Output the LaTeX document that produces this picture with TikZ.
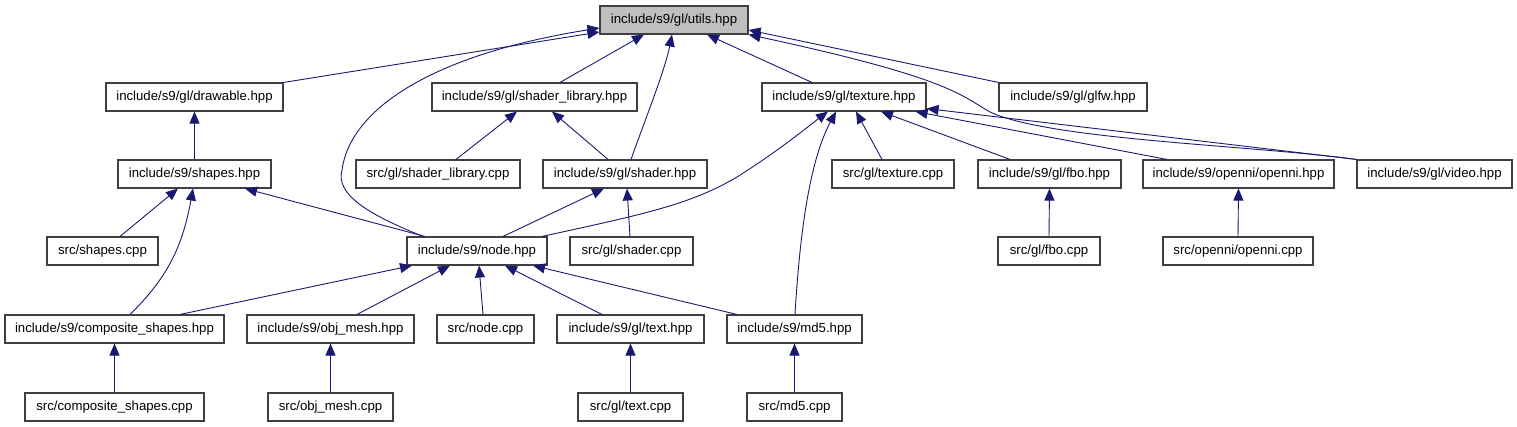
\documentclass[tikz,border=0pt]{standalone}
\usepackage{fontspec}
\setmainfont{Liberation Sans}
\usetikzlibrary{arrows.meta}
\definecolor{edgeblue}{HTML}{191970}
\definecolor{boxline}{HTML}{404040}
\definecolor{rootfill}{HTML}{BFBFBF}
\tikzset{
  box/.style={draw=boxline, line width=1.1pt, fill=white, rectangle, inner sep=0pt,
    minimum height=28pt, text height=9.6pt, text depth=2.8pt,
    font=\fontsize{13.2}{15}\selectfont},
  rootbox/.style={box, fill=rootfill},
  edge/.style={draw=edgeblue, line width=0.9pt, -{Triangle[length=12pt,width=10pt]}},
}
\begin{document}
\begin{tikzpicture}[x=1pt,y=-1pt]
\useasboundingbox (0,0) rectangle (1517,427);
% row 1
\node[rootbox, minimum width=148pt] (utils) at (674,20) {include/s9/gl/utils.hpp};
% row 2
\node[box, minimum width=177pt] (drawable) at (194.5,97) {include/s9/gl/drawable.hpp};
\node[box, minimum width=205pt] (shaderlib) at (534.5,97) {include/s9/gl/shader\_library.hpp};
\node[box, minimum width=164pt] (texture) at (844,97) {include/s9/gl/texture.hpp};
\node[box, minimum width=148pt] (glfw) at (1073,97) {include/s9/gl/glfw.hpp};
% row 3
\node[box, minimum width=153pt] (shapes) at (194.5,174) {include/s9/shapes.hpp};
\node[box, minimum width=164pt] (shaderlibcpp) at (438,174) {src/gl/shader\_library.cpp};
\node[box, minimum width=164pt] (shader) at (625,174) {include/s9/gl/shader.hpp};
\node[box, minimum width=122pt] (texturecpp) at (893,174) {src/gl/texture.cpp};
\node[box, minimum width=143pt] (fbo) at (1049.5,174) {include/s9/gl/fbo.hpp};
\node[box, minimum width=191pt] (openni) at (1238.5,174) {include/s9/openni/openni.hpp};
\node[box, minimum width=155pt] (video) at (1434.5,174) {include/s9/gl/video.hpp};
% row 4
\node[box, minimum width=111pt] (shapescpp) at (102.5,251) {src/shapes.cpp};
\node[box, minimum width=140pt] (node) at (477,251) {include/s9/node.hpp};
\node[box, minimum width=123pt] (shadercpp) at (631.5,251) {src/gl/shader.cpp};
\node[box, minimum width=102pt] (fbocpp) at (1049,251) {src/gl/fbo.cpp};
\node[box, minimum width=150pt] (opennicpp) at (1238,251) {src/openni/openni.cpp};
% row 5
\node[box, minimum width=219pt] (comphpp) at (114.5,329) {include/s9/composite\_shapes.hpp};
\node[box, minimum width=167pt] (objhpp) at (330.5,329) {include/s9/obj\_mesh.hpp};
\node[box, minimum width=97pt] (nodecpp) at (485.5,329) {src/node.cpp};
\node[box, minimum width=147pt] (texthpp) at (630.5,329) {include/s9/gl/text.hpp};
\node[box, minimum width=135pt] (md5hpp) at (794.5,329) {include/s9/md5.hpp};
% row 6
\node[box, minimum width=179pt] (compcpp) at (114.5,407) {src/composite\_shapes.cpp};
\node[box, minimum width=125pt] (objcpp) at (330.5,407) {src/obj\_mesh.cpp};
\node[box, minimum width=105pt] (textcpp) at (630.5,407) {src/gl/text.cpp};
\node[box, minimum width=95pt] (md5cpp) at (794.5,407) {src/md5.cpp};

% edges to utils
\draw[edge] (drawable.north east) -- ([yshift=-12pt]utils.west);
\draw[edge] ([xshift=-54pt]node.north) .. controls (370,215) and (335,195) .. (342,170)
  .. controls (350,110) and (430,55) .. ([yshift=-8pt]utils.west);
\draw[edge] ([xshift=25.5pt]shaderlib.north) -- ([xshift=-30pt]utils.south);
\draw[edge] ([xshift=6pt]shader.north) .. controls (645,120) and (665,70) .. ([xshift=-2pt]utils.south);
\draw[edge] ([xshift=-32pt]texture.north) -- ([xshift=33pt]utils.south);
\draw[edge] (glfw.north west) -- ([yshift=-10pt]utils.east);
\draw[edge] (video.north west) .. controls (1250,145) and (1050,140) .. (990,112)
  .. controls (960,95) and (950,78) .. (utils.south east);
% drawable / shapes
\draw[edge] (shapes.north) -- (drawable.south);
\draw[edge] ([xshift=17.5pt]shapescpp.north) -- ([xshift=-16.5pt]shapes.south);
\draw[edge] ([xshift=15.5pt]comphpp.north) .. controls (165,280) and (182,250) .. ([xshift=-1.5pt]shapes.south);
\draw[edge] ([xshift=-52pt]node.north) -- ([xshift=50.5pt]shapes.south);
% shader library / shader
\draw[edge] ([xshift=18pt]shaderlibcpp.north) -- ([xshift=-17.5pt]shaderlib.south);
\draw[edge] ([xshift=-17pt]shader.north) -- ([xshift=17.5pt]shaderlib.south);
\draw[edge] ([xshift=26pt]node.north) -- ([xshift=-21pt]shader.south);
\draw[edge] ([xshift=-1.5pt]shadercpp.north) -- ([xshift=2pt]shader.south);
% texture
\draw[edge] ([xshift=65pt]node.north) .. controls (640,215) and (690,205) .. (737,177)
  .. controls (780,150) and (810,125) .. ([xshift=-16pt]texture.south);
\draw[edge] ([xshift=0.5pt]md5hpp.north) .. controls (800,230) and (810,160) .. ([xshift=-8pt]texture.south);
\draw[edge] ([xshift=-11pt]texturecpp.north) -- ([xshift=12pt]texture.south);
\draw[edge] ([xshift=-39.5pt]fbo.north) -- ([xshift=37pt]texture.south);
\draw[edge] ([xshift=-71.5pt]openni.north) -- ([xshift=-11pt]texture.south east);
\draw[edge] (video.north west) -- ([yshift=3pt]texture.south east);
\draw[edge] (fbocpp.north) -- (fbo.south);
\draw[edge] (opennicpp.north) -- (openni.south);
% node
\draw[edge] ([xshift=65.5pt]comphpp.north) -- ([xshift=-65pt]node.south);
\draw[edge] ([xshift=26.5pt]objhpp.north) -- ([xshift=-27pt]node.south);
\draw[edge] ([xshift=-2.5pt]nodecpp.north) -- ([xshift=2pt]node.south);
\draw[edge] ([xshift=-28.5pt]texthpp.north) -- ([xshift=28pt]node.south);
\draw[edge] ([xshift=-57.5pt]md5hpp.north) -- ([xshift=56pt]node.south);
% bottom row
\draw[edge] (compcpp.north) -- (comphpp.south);
\draw[edge] (objcpp.north) -- (objhpp.south);
\draw[edge] (textcpp.north) -- (texthpp.south);
\draw[edge] (md5cpp.north) -- (md5hpp.south);
\end{tikzpicture}
\end{document}
